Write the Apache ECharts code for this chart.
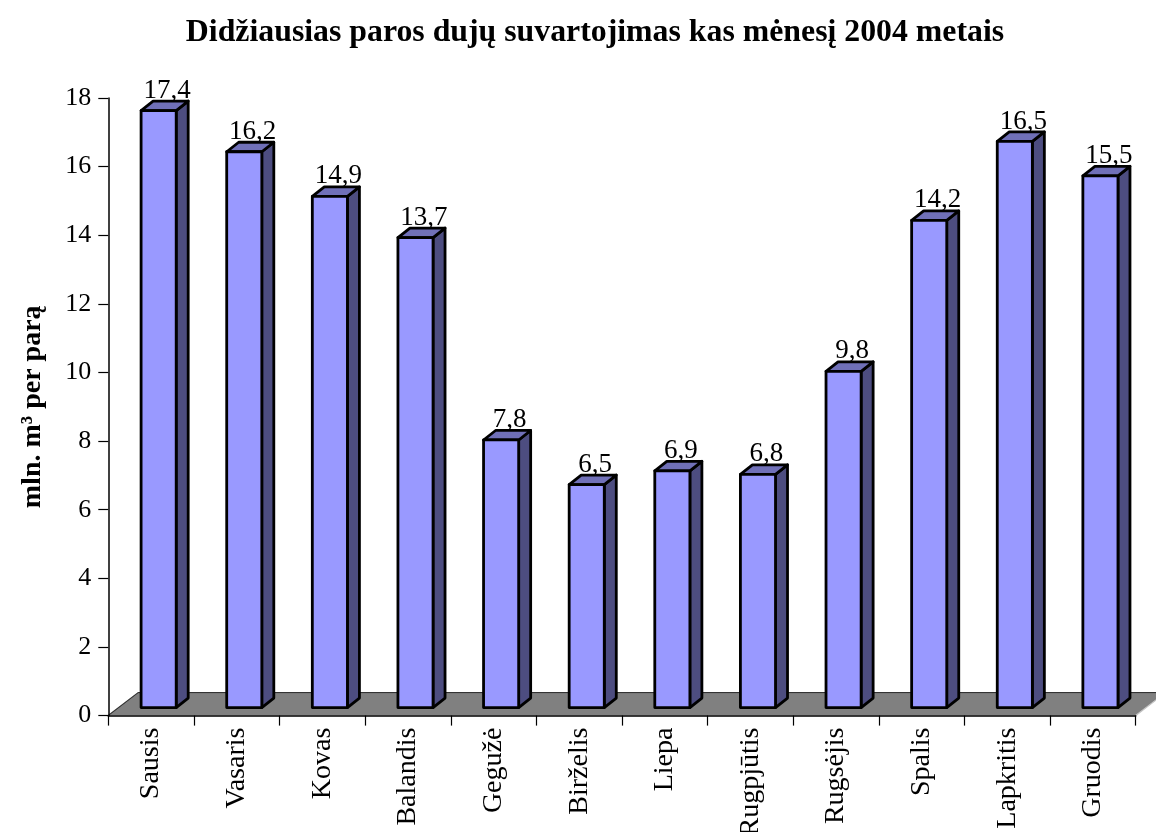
<!DOCTYPE html>
<html>
<head>
<meta charset="utf-8">
<style>html,body{margin:0;padding:0;background:#fff}#c{width:1156px;height:832px}</style>
<script src="https://cdn.jsdelivr.net/npm/echarts@6/dist/echarts.min.js"></script>
</head>
<body>
<div id="c"></div>
<script>
const months = ['Sausis','Vasaris','Kovas','Balandis','Gegužė','Birželis','Liepa','Rugpjūtis','Rugsėjis','Spalis','Lapkritis','Gruodis'];
const peak = [17.4,16.2,14.9,13.7,7.8,6.5,6.9,6.8,9.8,14.2,16.5,15.5];
const yTicks = {min:0,max:18,interval:2};
const titleText = 'Didžiausias paros dujų suvartojimas kas mėnesį 2004 metais';
const yName = 'mln. m³ per parą';

const FONT = '"Liberation Serif","Times New Roman",serif';
const chart = echarts.init(document.getElementById('c'),null,{renderer:'canvas'});

function floorItem(params, api){
  const o = api.coord([0,0]);
  const band = api.size([1,0])[0];
  const x0 = o[0]-band/2, x1 = x0+band*months.length, y = o[1];
  return {type:'group',children:[
    {type:'polygon',shape:{points:[[x0,y],[x0+30,y-23],[x1+30,y-23],[x1,y]]},
      style:{fill:'#808080',stroke:'#c4c4c4',lineWidth:1.2}},
    {type:'polyline',shape:{points:[[x0,y],[x0+30,y-23],[x1+30,y-23]]},
      style:{fill:null,stroke:'#333',lineWidth:1.2}}
  ]};
}
function barItem(params, api){
  const i = api.value(0), v = api.value(1);
  const p = api.coord([i,v]);
  const base = api.coord([i,0]);
  const band = api.size([1,0])[0];
  const l = p[0]-band*0.117, r = l+band*0.41;
  const up = 8;
  const t = p[1]-up, b = base[1]-up;
  const dx = 12, dy = 9.5;
  const line = {stroke:'#000',lineWidth:2.8,lineJoin:'round'};
  return {type:'group',children:[
    {type:'polygon',shape:{points:[[r,t],[r+dx,t-dy],[r+dx,b-dy],[r,b]]},style:Object.assign({fill:'#4d4d80'},line)},
    {type:'polygon',shape:{points:[[l,t],[l+dx,t-dy],[r+dx,t-dy],[r,t]]},style:Object.assign({fill:'#7070b8'},line)},
    {type:'rect',shape:{x:l,y:t,width:r-l,height:b-t},style:Object.assign({fill:'#9999ff'},line)},
    {type:'text',z2:10,style:{x:l+26,y:t+3-dy,text:String(v).replace('.',','),font:'27px '+FONT,fill:'#000',textAlign:'center',textVerticalAlign:'bottom'}}
  ]};
}
chart.setOption({
  animation:false,
  backgroundColor:'#fff',
  title:{text:titleText,left:590,top:12,textAlign:'center',textStyle:{fontFamily:FONT,fontWeight:'bold',fontSize:31.8,color:'#000'}},
  grid:{left:108.3,right:20.3,top:98,bottom:116.4,outerBoundsMode:'none',containLabel:false},
  xAxis:{type:'category',data:months,z:5,
    axisLine:{lineStyle:{color:'#000',width:1.5}},
    axisTick:{show:true,length:10,lineStyle:{color:'#000',width:1.2}},
    axisLabel:{interval:0,rotate:90,margin:12,fontFamily:FONT,fontSize:28,color:'#000'}},
  yAxis:{type:'value',min:yTicks.min,max:yTicks.max,interval:yTicks.interval,z:5,
    name:yName,nameLocation:'middle',nameGap:62,nameRotate:90,
    nameTextStyle:{fontFamily:FONT,fontWeight:'bold',fontSize:28,color:'#000'},
    splitLine:{show:false},
    axisLine:{show:true,lineStyle:{color:'#000',width:1.5}},
    axisTick:{show:true,length:10,lineStyle:{color:'#000',width:1.2}},
    axisLabel:{margin:17,fontFamily:FONT,fontSize:26,color:'#000'}},
  series:[
    {type:'custom',name:'floor',z:1,clip:false,silent:true,renderItem:floorItem,data:[[0,0]],encode:{x:0,y:1}},
    {type:'custom',name:'peak',z:3,clip:false,renderItem:barItem,data:peak.map((v,i)=>[i,v]),encode:{x:0,y:1}}
  ]
});
</script>
</body>
</html>
